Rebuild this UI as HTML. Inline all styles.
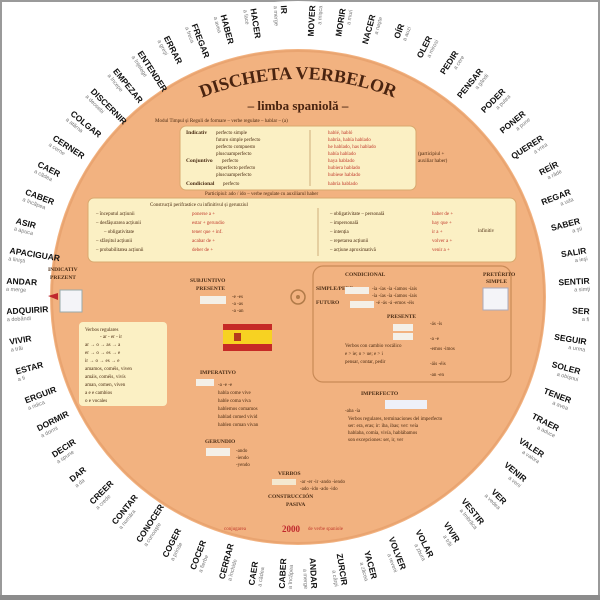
<!DOCTYPE html>
<html><head><meta charset="utf-8"><style>
html,body{margin:0;padding:0;background:#fff}
svg{display:block}
.v{font:bold 8.5px "Liberation Sans",sans-serif;fill:#111}
.g{font:5.5px "Liberation Sans",sans-serif;fill:#777}
.t{font:5px "Liberation Serif",serif;fill:#4a2a10}
.r{font:5px "Liberation Serif",serif;fill:#c0392b}
.h{font:bold 5.5px "Liberation Serif",serif;fill:#4a2c14}
</style></head><body>
<svg width="600" height="600" viewBox="0 0 600 600" xmlns="http://www.w3.org/2000/svg">
<rect x="0" y="0" width="600" height="600" fill="#fff"/>
<rect x="1" y="1" width="598" height="597" fill="none" stroke="#9a9a9a" stroke-width="2"/>
<rect x="0" y="595" width="600" height="5" fill="#8c8c8c"/>
<circle cx="298" cy="297" r="296" fill="#fff"/>
<circle cx="298" cy="297" r="248" fill="#f2b280"/>
<circle cx="298" cy="297" r="246" fill="none" stroke="#e9a470" stroke-width="2"/>

<g>
<g transform="translate(298 297) rotate(3) translate(292 0)"><text class="v" text-anchor="end" dy="2">SER</text><text class="g" text-anchor="end" dy="9">a fi</text></g>
<g transform="translate(298 297) rotate(9) translate(292 0)"><text class="v" text-anchor="end" dy="2">SEGUIR</text><text class="g" text-anchor="end" dy="9">a urma</text></g>
<g transform="translate(298 297) rotate(15) translate(292 0)"><text class="v" text-anchor="end" dy="2">SOLER</text><text class="g" text-anchor="end" dy="9">a obişnui</text></g>
<g transform="translate(298 297) rotate(21) translate(292 0)"><text class="v" text-anchor="end" dy="2">TENER</text><text class="g" text-anchor="end" dy="9">a avea</text></g>
<g transform="translate(298 297) rotate(27) translate(292 0)"><text class="v" text-anchor="end" dy="2">TRAER</text><text class="g" text-anchor="end" dy="9">a aduce</text></g>
<g transform="translate(298 297) rotate(33) translate(292 0)"><text class="v" text-anchor="end" dy="2">VALER</text><text class="g" text-anchor="end" dy="9">a valora</text></g>
<g transform="translate(298 297) rotate(39) translate(292 0)"><text class="v" text-anchor="end" dy="2">VENIR</text><text class="g" text-anchor="end" dy="9">a veni</text></g>
<g transform="translate(298 297) rotate(45) translate(292 0)"><text class="v" text-anchor="end" dy="2">VER</text><text class="g" text-anchor="end" dy="9">a vedea</text></g>
<g transform="translate(298 297) rotate(51) translate(292 0)"><text class="v" text-anchor="end" dy="2">VESTIR</text><text class="g" text-anchor="end" dy="9">a îmbrăca</text></g>
<g transform="translate(298 297) rotate(57) translate(292 0)"><text class="v" text-anchor="end" dy="2">VIVIR</text><text class="g" text-anchor="end" dy="9">a trăi</text></g>
<g transform="translate(298 297) rotate(63) translate(292 0)"><text class="v" text-anchor="end" dy="2">VOLAR</text><text class="g" text-anchor="end" dy="9">a zbura</text></g>
<g transform="translate(298 297) rotate(69) translate(292 0)"><text class="v" text-anchor="end" dy="2">VOLVER</text><text class="g" text-anchor="end" dy="9">a reveni</text></g>
<g transform="translate(298 297) rotate(75) translate(292 0)"><text class="v" text-anchor="end" dy="2">YACER</text><text class="g" text-anchor="end" dy="9">a zăcea</text></g>
<g transform="translate(298 297) rotate(81) translate(292 0)"><text class="v" text-anchor="end" dy="2">ZURCIR</text><text class="g" text-anchor="end" dy="9">a cârpi</text></g>
<g transform="translate(298 297) rotate(87) translate(292 0)"><text class="v" text-anchor="end" dy="2">ANDAR</text><text class="g" text-anchor="end" dy="9">a merge</text></g>
<g transform="translate(298 297) rotate(273) translate(292 0)"><text class="v" text-anchor="end" dy="2">MOVER</text><text class="g" text-anchor="end" dy="9">a mişca</text></g>
<g transform="translate(298 297) rotate(279) translate(292 0)"><text class="v" text-anchor="end" dy="2">MORIR</text><text class="g" text-anchor="end" dy="9">a muri</text></g>
<g transform="translate(298 297) rotate(285) translate(292 0)"><text class="v" text-anchor="end" dy="2">NACER</text><text class="g" text-anchor="end" dy="9">a naşte</text></g>
<g transform="translate(298 297) rotate(291) translate(292 0)"><text class="v" text-anchor="end" dy="2">OÍR</text><text class="g" text-anchor="end" dy="9">a auzi</text></g>
<g transform="translate(298 297) rotate(297) translate(292 0)"><text class="v" text-anchor="end" dy="2">OLER</text><text class="g" text-anchor="end" dy="9">a mirosi</text></g>
<g transform="translate(298 297) rotate(303) translate(292 0)"><text class="v" text-anchor="end" dy="2">PEDIR</text><text class="g" text-anchor="end" dy="9">a cere</text></g>
<g transform="translate(298 297) rotate(309) translate(292 0)"><text class="v" text-anchor="end" dy="2">PENSAR</text><text class="g" text-anchor="end" dy="9">a gândi</text></g>
<g transform="translate(298 297) rotate(315) translate(292 0)"><text class="v" text-anchor="end" dy="2">PODER</text><text class="g" text-anchor="end" dy="9">a putea</text></g>
<g transform="translate(298 297) rotate(321) translate(292 0)"><text class="v" text-anchor="end" dy="2">PONER</text><text class="g" text-anchor="end" dy="9">a pune</text></g>
<g transform="translate(298 297) rotate(327) translate(292 0)"><text class="v" text-anchor="end" dy="2">QUERER</text><text class="g" text-anchor="end" dy="9">a vrea</text></g>
<g transform="translate(298 297) rotate(333) translate(292 0)"><text class="v" text-anchor="end" dy="2">REÍR</text><text class="g" text-anchor="end" dy="9">a râde</text></g>
<g transform="translate(298 297) rotate(339) translate(292 0)"><text class="v" text-anchor="end" dy="2">REGAR</text><text class="g" text-anchor="end" dy="9">a uda</text></g>
<g transform="translate(298 297) rotate(345) translate(292 0)"><text class="v" text-anchor="end" dy="2">SABER</text><text class="g" text-anchor="end" dy="9">a şti</text></g>
<g transform="translate(298 297) rotate(351) translate(292 0)"><text class="v" text-anchor="end" dy="2">SALIR</text><text class="g" text-anchor="end" dy="9">a ieşi</text></g>
<g transform="translate(298 297) rotate(357) translate(292 0)"><text class="v" text-anchor="end" dy="2">SENTIR</text><text class="g" text-anchor="end" dy="9">a simţi</text></g>
<g transform="translate(298 297) rotate(-87) translate(-292 0)"><text class="v" dy="2">CABER</text><text class="g" dy="9">a încăpea</text></g>
<g transform="translate(298 297) rotate(-81) translate(-292 0)"><text class="v" dy="2">CAER</text><text class="g" dy="9">a cădea</text></g>
<g transform="translate(298 297) rotate(-75) translate(-292 0)"><text class="v" dy="2">CERRAR</text><text class="g" dy="9">a închide</text></g>
<g transform="translate(298 297) rotate(-69) translate(-292 0)"><text class="v" dy="2">COCER</text><text class="g" dy="9">a fierbe</text></g>
<g transform="translate(298 297) rotate(-63) translate(-292 0)"><text class="v" dy="2">COGER</text><text class="g" dy="9">a prinde</text></g>
<g transform="translate(298 297) rotate(-57) translate(-292 0)"><text class="v" dy="2">CONOCER</text><text class="g" dy="9">a cunoaşte</text></g>
<g transform="translate(298 297) rotate(-51) translate(-292 0)"><text class="v" dy="2">CONTAR</text><text class="g" dy="9">a număra</text></g>
<g transform="translate(298 297) rotate(-45) translate(-292 0)"><text class="v" dy="2">CREER</text><text class="g" dy="9">a crede</text></g>
<g transform="translate(298 297) rotate(-39) translate(-292 0)"><text class="v" dy="2">DAR</text><text class="g" dy="9">a da</text></g>
<g transform="translate(298 297) rotate(-33) translate(-292 0)"><text class="v" dy="2">DECIR</text><text class="g" dy="9">a spune</text></g>
<g transform="translate(298 297) rotate(-27) translate(-292 0)"><text class="v" dy="2">DORMIR</text><text class="g" dy="9">a dormi</text></g>
<g transform="translate(298 297) rotate(-21) translate(-292 0)"><text class="v" dy="2">ERGUIR</text><text class="g" dy="9">a ridica</text></g>
<g transform="translate(298 297) rotate(-15) translate(-292 0)"><text class="v" dy="2">ESTAR</text><text class="g" dy="9">a fi</text></g>
<g transform="translate(298 297) rotate(-9) translate(-292 0)"><text class="v" dy="2">VIVIR</text><text class="g" dy="9">a trăi</text></g>
<g transform="translate(298 297) rotate(-3) translate(-292 0)"><text class="v" dy="2">ADQUIRIR</text><text class="g" dy="9">a dobândi</text></g>
<g transform="translate(298 297) rotate(3) translate(-292 0)"><text class="v" dy="2">ANDAR</text><text class="g" dy="9">a merge</text></g>
<g transform="translate(298 297) rotate(9) translate(-292 0)"><text class="v" dy="2">APACIGUAR</text><text class="g" dy="9">a linişti</text></g>
<g transform="translate(298 297) rotate(15) translate(-292 0)"><text class="v" dy="2">ASIR</text><text class="g" dy="9">a apuca</text></g>
<g transform="translate(298 297) rotate(21) translate(-292 0)"><text class="v" dy="2">CABER</text><text class="g" dy="9">a încăpea</text></g>
<g transform="translate(298 297) rotate(27) translate(-292 0)"><text class="v" dy="2">CAER</text><text class="g" dy="9">a cădea</text></g>
<g transform="translate(298 297) rotate(33) translate(-292 0)"><text class="v" dy="2">CERNER</text><text class="g" dy="9">a cerne</text></g>
<g transform="translate(298 297) rotate(39) translate(-292 0)"><text class="v" dy="2">COLGAR</text><text class="g" dy="9">a atârna</text></g>
<g transform="translate(298 297) rotate(45) translate(-292 0)"><text class="v" dy="2">DISCERNIR</text><text class="g" dy="9">a deosebi</text></g>
<g transform="translate(298 297) rotate(51) translate(-292 0)"><text class="v" dy="2">EMPEZAR</text><text class="g" dy="9">a începe</text></g>
<g transform="translate(298 297) rotate(57) translate(-292 0)"><text class="v" dy="2">ENTENDER</text><text class="g" dy="9">a înţelege</text></g>
<g transform="translate(298 297) rotate(63) translate(-292 0)"><text class="v" dy="2">ERRAR</text><text class="g" dy="9">a greşi</text></g>
<g transform="translate(298 297) rotate(69) translate(-292 0)"><text class="v" dy="2">FREGAR</text><text class="g" dy="9">a freca</text></g>
<g transform="translate(298 297) rotate(75) translate(-292 0)"><text class="v" dy="2">HABER</text><text class="g" dy="9">a avea</text></g>
<g transform="translate(298 297) rotate(81) translate(-292 0)"><text class="v" dy="2">HACER</text><text class="g" dy="9">a face</text></g>
<g transform="translate(298 297) rotate(87) translate(-292 0)"><text class="v" dy="2">IR</text><text class="g" dy="9">a merge</text></g>
</g>

<path id="arc" d="M196 100 Q298 58 400 100" fill="none"/>
<text font-family="Liberation Serif,serif" font-weight="bold" font-size="18" fill="#4a2410" text-anchor="middle"><textPath href="#arc" startOffset="50%">DISCHETA VERBELOR</textPath></text>
<text x="298" y="110" text-anchor="middle" font-family="Liberation Serif,serif" font-weight="bold" font-size="13" fill="#4a2410">– limba spaniolă –</text>
<text x="155" y="122" class="t" fill="#7a4a20">Modul Timpul și Reguli de formare – verbe regulate – hablar – (a)</text>

<rect x="180" y="126" width="236" height="64" rx="6" fill="#fbf0c4" stroke="#d9a86e"/>
<line x1="310" y1="130" x2="310" y2="186" stroke="#cfae7d"/>
<text x="186" y="134" class="h">Indicativ</text>
<text x="216" y="134" class="t">perfecto simple</text>
<text x="216" y="141" class="t">futuro simple perfecto</text>
<text x="216" y="148" class="t">perfecto compuesto</text>
<text x="216" y="155" class="t">pluscuamperfecto</text>
<text x="186" y="162" class="h">Conjuntivo</text>
<text x="222" y="162" class="t">perfecto</text>
<text x="216" y="169" class="t">imperfecto perfecto</text>
<text x="216" y="176" class="t">pluscuamperfecto</text>
<text x="186" y="185" class="h">Condicional</text>
<text x="223" y="185" class="t">perfecto</text>
<text x="328" y="134" class="r">hablé, habló</text>
<text x="328" y="141" class="r">habría, había hablado</text>
<text x="328" y="148" class="r">he hablado, has hablado</text>
<text x="328" y="155" class="r">había hablado</text>
<text x="328" y="162" class="r">haya hablado</text>
<text x="328" y="169" class="r">hubiera hablado</text>
<text x="328" y="176" class="r">hubiese hablado</text>
<text x="328" y="185" class="r">habría hablado</text>
<text x="418" y="155" class="t">(participiul +</text>
<text x="418" y="162" class="t">auxiliar haber)</text>
<text x="205" y="195" class="t" font-weight="bold">Participiul: ado / ido – verbe regulate cu auxiliarul haber</text>

<rect x="88" y="198" width="428" height="64" rx="6" fill="#fbf0c4" stroke="#d9a86e"/>
<text x="150" y="206" class="t">Construcții perifrastice cu infinitivul și gerunziul</text>
<text x="96" y="215" class="t">– începutul acțiunii</text><text x="192" y="215" class="r">ponerse a +</text>
<text x="96" y="224" class="t">– desfășurarea acțiunii</text><text x="192" y="224" class="r">estar + gerundio</text>
<text x="104" y="233" class="t">– obligativitate</text><text x="192" y="233" class="r">tener que + inf.</text>
<text x="96" y="242" class="t">– sfârșitul acțiunii</text><text x="192" y="242" class="r">acabar de +</text>
<text x="96" y="251" class="t">– probabilitatea acțiunii</text><text x="192" y="251" class="r">deber de +</text>
<line x1="318" y1="208" x2="318" y2="256" stroke="#cfae7d"/>
<text x="330" y="215" class="t">– obligativitate – personală</text><text x="432" y="215" class="r">haber de +</text>
<text x="330" y="224" class="t">– impersonală</text><text x="432" y="224" class="r">hay que +</text>
<text x="330" y="233" class="t">– intenția</text><text x="432" y="233" class="r">ir a +</text>
<text x="330" y="242" class="t">– repetarea acțiunii</text><text x="432" y="242" class="r">volver a +</text>
<text x="330" y="251" class="t">– acțiune aproximativă</text><text x="432" y="251" class="r">venir a +</text>
<text x="478" y="232" class="t">infinitiv</text>

<text x="48" y="271" class="h" fill="#8a3a10">INDICATIV</text>
<text x="50" y="279" class="h" fill="#8a3a10">PREZENT</text>
<rect x="60" y="290" width="22" height="22" fill="#f4f4f8" stroke="#9aa"/>
<polygon points="48,296 58,293 58,300" fill="#c0282d"/>
<rect x="79" y="322" width="88" height="84" rx="4" fill="#fbf0c4"/>
<text x="85" y="331" class="t">Verbos regulares</text>
<text x="100" y="338" class="t">- ar - er - ir</text>
<text x="85" y="346" class="t">ar → o → as → a</text>
<text x="85" y="354" class="t">er → o → es → e</text>
<text x="85" y="362" class="t">ir → o → es → e</text>
<text x="85" y="370" class="t">amamos, coméis, viven</text>
<text x="85" y="378" class="t">amáis, coméis, vivís</text>
<text x="85" y="386" class="t">aman, comen, viven</text>
<text x="85" y="394" class="t">a  e  e  cambios</text>
<text x="85" y="402" class="t">o  e  vocales</text>

<text x="190" y="282" class="h">SUBJUNTIVO</text>
<text x="196" y="290" class="h">PRESENTE</text>
<rect x="200" y="296" width="26" height="8" fill="#f4f0e8"/>
<text x="232" y="298" class="t">-e -es</text>
<text x="232" y="305" class="t">-a -as</text>
<text x="232" y="312" class="t">-a -an</text>
<rect x="223" y="324" width="49" height="6" fill="#c62a26"/>
<rect x="223" y="330" width="49" height="14" fill="#f7d222"/>
<rect x="223" y="344" width="49" height="7" fill="#c62a26"/>
<rect x="234" y="333" width="7" height="8" fill="#b43a1c"/>
<circle cx="298" cy="297" r="7" fill="none" stroke="#b07a48" stroke-width="1.5"/>
<circle cx="298" cy="297" r="2" fill="#b07a48"/>

<text x="200" y="374" class="h">IMPERATIVO</text>
<rect x="196" y="379" width="18" height="7" fill="#f4f0e8"/>
<text x="218" y="386" class="t">-a    -e    -e</text>
<text x="218" y="394" class="t">habla   come   vive</text>
<text x="218" y="402" class="t">hable   coma   viva</text>
<text x="218" y="410" class="t">hablemos comamos</text>
<text x="218" y="418" class="t">hablad  comed  vivid</text>
<text x="218" y="426" class="t">hablen  coman  vivan</text>
<text x="205" y="443" class="h">GERUNDIO</text>
<rect x="206" y="448" width="24" height="8" fill="#f4f0e8"/>
<text x="236" y="452" class="t">-ando</text>
<text x="236" y="459" class="t">-iendo</text>
<text x="236" y="466" class="t">-yendo</text>

<rect x="313" y="266" width="198" height="116" rx="10" fill="none" stroke="#c98a56" stroke-width="1.2"/>
<text x="345" y="276" class="h">CONDICIONAL</text>
<text x="316" y="290" class="h">SIMPLE/PERF.</text>
<rect x="345" y="287" width="24" height="7" fill="#f4f0e8"/>
<text x="372" y="290" class="t">-ía -ías -ía -íamos -íais</text>
<text x="372" y="297" class="t">-ía -ías -ía -íamos -íais</text>
<text x="316" y="304" class="h">FUTURO</text>
<rect x="350" y="301" width="24" height="7" fill="#f4f0e8"/>
<text x="376" y="304" class="t">-é -ás -á -emos -éis</text>
<text x="387" y="318" class="h">PRESENTE</text>
<rect x="393" y="324" width="20" height="7" fill="#f4f0e8"/>
<rect x="393" y="333" width="20" height="7" fill="#f4f0e8"/>
<text x="345" y="347" class="t">Verbos con cambio vocálico</text>
<text x="345" y="355" class="t">e &gt; ie; o &gt; ue; e &gt; i</text>
<text x="345" y="363" class="t">pensar, contar, pedir</text>
<text x="430" y="325" class="t">-ás  -ís</text>
<text x="430" y="340" class="t">-a  -e</text>
<text x="430" y="350" class="t">-emos -imos</text>
<text x="430" y="365" class="t">-áis  -éis</text>
<text x="430" y="376" class="t">-an  -en</text>

<text x="483" y="276" class="h">PRETÉRITO</text>
<text x="486" y="283" class="h">SIMPLE</text>
<rect x="483" y="288" width="25" height="22" fill="#f4f4f8" stroke="#aab"/>

<text x="361" y="395" class="h">IMPERFECTO</text>
<rect x="385" y="400" width="42" height="9" fill="#eef0f8"/>
<text x="345" y="412" class="t">-aba  -ía</text>
<text x="348" y="420" class="t">Verbos regulares, terminaciones del imperfecto</text>
<text x="348" y="427" class="t">ser: era, eras; ir: iba, ibas; ver: veía</text>
<text x="348" y="434" class="t">hablaba, comía, vivía, hablábamos</text>
<text x="348" y="441" class="t">son excepciones: ser, ir, ver</text>

<text x="278" y="475" class="h">VERBOS</text>
<rect x="272" y="479" width="24" height="6" fill="#f4e8d0"/>
<text x="300" y="483" class="t">-ar -er -ir -ando -iendo</text>
<text x="300" y="490" class="t">-ado -ido -ado -ido</text>
<text x="268" y="498" class="h">CONSTRUCCIÓN</text>
<text x="286" y="506" class="h">PASIVA</text>
<text x="224" y="530" font-family="Liberation Serif,serif" font-size="5" fill="#c0392b">conjugarea</text>
<text x="282" y="532" font-family="Liberation Serif,serif" font-weight="bold" font-size="9" fill="#c0282d">2000</text>
<text x="308" y="530" font-family="Liberation Serif,serif" font-size="5" fill="#c0392b">de verbe spaniole</text>
</svg>
</body></html>
